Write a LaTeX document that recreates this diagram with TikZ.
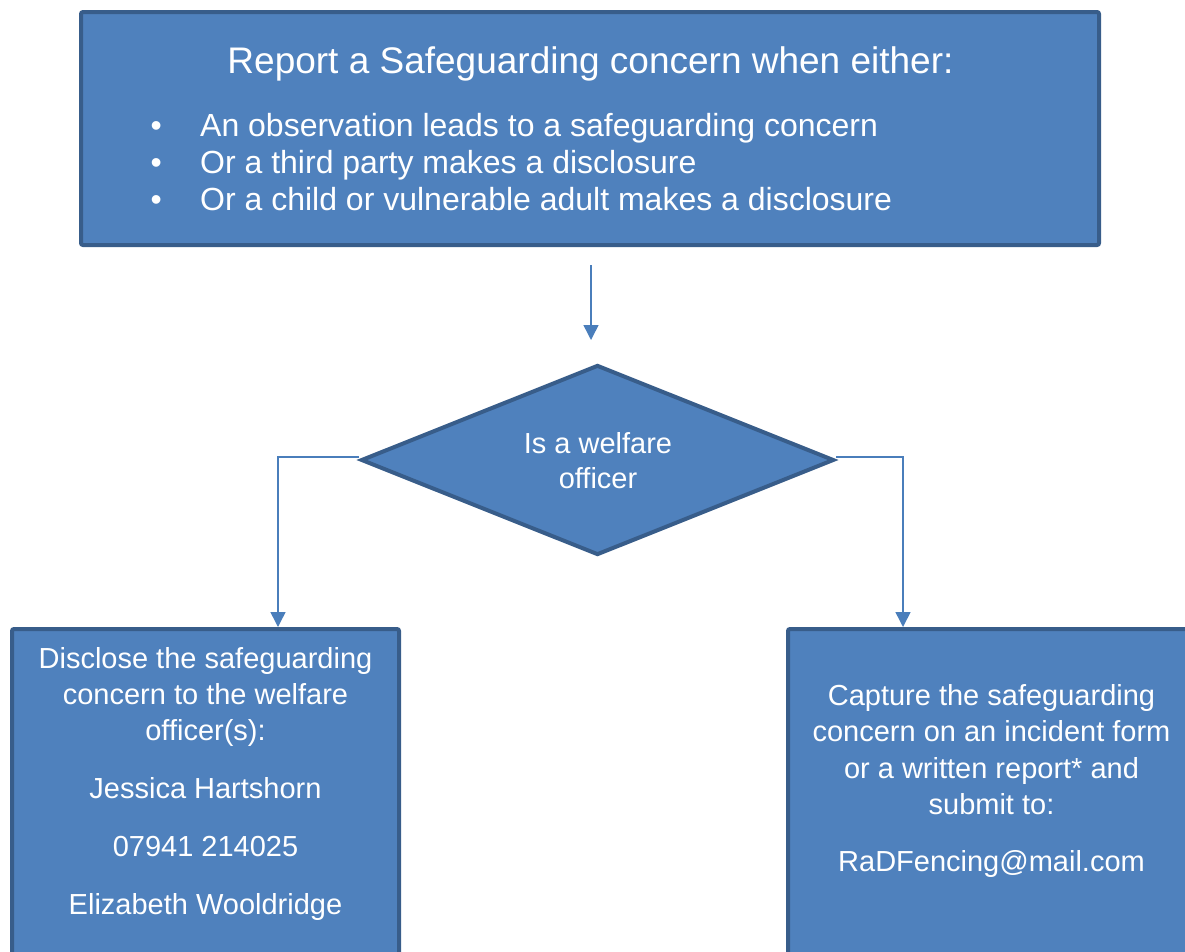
\documentclass[tikz,border=0pt]{standalone}
\usepackage{fontspec}
\setmainfont{Liberation Sans}
\usetikzlibrary{arrows.meta,shapes.geometric}
\definecolor{boxfill}{HTML}{4F81BD}
\definecolor{boxline}{HTML}{385D8A}
\definecolor{connline}{HTML}{4A7EBB}
\tikzset{
  box/.style={draw=boxline, fill=boxfill, line width=4pt, inner sep=0pt, rectangle},
  decision/.style={draw=boxline, fill=boxfill, line width=4pt, inner sep=0pt, diamond},
  txt/.style={text=white, inner sep=0pt, anchor=base},
  conn/.style={draw=connline, line width=1.5pt, -{Triangle[length=15pt,width=15pt]}},
}
\begin{document}
\begin{tikzpicture}[x=1pt,y=-1pt]
\useasboundingbox (0,0) rectangle (1185,951);
\clip (0,0) rectangle (1185,951);

% boxes
\node[box, minimum width=1018pt, minimum height=233pt, rounded corners=2pt] (top) at (590,128.5) {};
\node[decision, minimum width=473pt, minimum height=190pt] (dia) at (597.5,460) {};
\node[box, minimum width=387pt, minimum height=371pt, rounded corners=2pt] (lbox) at (205.5,814.5) {};
\node[box, minimum width=462pt, minimum height=371pt, rounded corners=2pt] (rbox) at (1019,814.5) {};

% texts
\node[txt, font=\fontsize{37}{44}\selectfont] (title) at (590.5,73.3) {Report a Safeguarding concern when either:};
\node[txt, anchor=base west, font=\fontsize{32}{36.7}\selectfont] (bullets) at (156,136.7)
  {\begin{tabular}[t]{@{}l@{}}
   \makebox[0pt]{•}\hspace*{44pt}An observation leads to a safeguarding concern\\
   \makebox[0pt]{•}\hspace*{44pt}Or a third party makes a disclosure\\
   \makebox[0pt]{•}\hspace*{44pt}Or a child or vulnerable adult makes a disclosure
   \end{tabular}};
\node[txt, font=\fontsize{29}{35}\selectfont] (dtext) at (598,453.3)
  {\begin{tabular}[t]{@{}c@{}}Is a welfare\\officer\end{tabular}};
\node[txt, font=\fontsize{29}{36}\selectfont] (ltext) at (205.5,668.3)
  {\begin{tabular}[t]{@{}c@{}}Disclose the safeguarding\\concern to the welfare\\officer(s):\\[22pt]
   Jessica Hartshorn\\[22pt]07941 214025\\[22pt]Elizabeth Wooldridge\end{tabular}};
\node[txt, font=\fontsize{29}{36.5}\selectfont] (rtext) at (991.5,705)
  {\begin{tabular}[t]{@{}c@{}}Capture the safeguarding\\concern on an incident form\\or a written report* and\\submit to:\\[20pt]
   RaDFencing@mail.com\end{tabular}};

% connectors
\coordinate (ta) at (591,265);
\coordinate (tb) at (591,340);
\coordinate (lx) at (278,0);
\coordinate (rx) at (903,0);
\draw[conn] (ta) -- (tb);
\draw[conn] ([yshift=3pt]dia.west) -| (lbox.north -| lx);
\draw[conn] ([yshift=3pt]dia.east) -| (rbox.north -| rx);
\end{tikzpicture}
\end{document}
